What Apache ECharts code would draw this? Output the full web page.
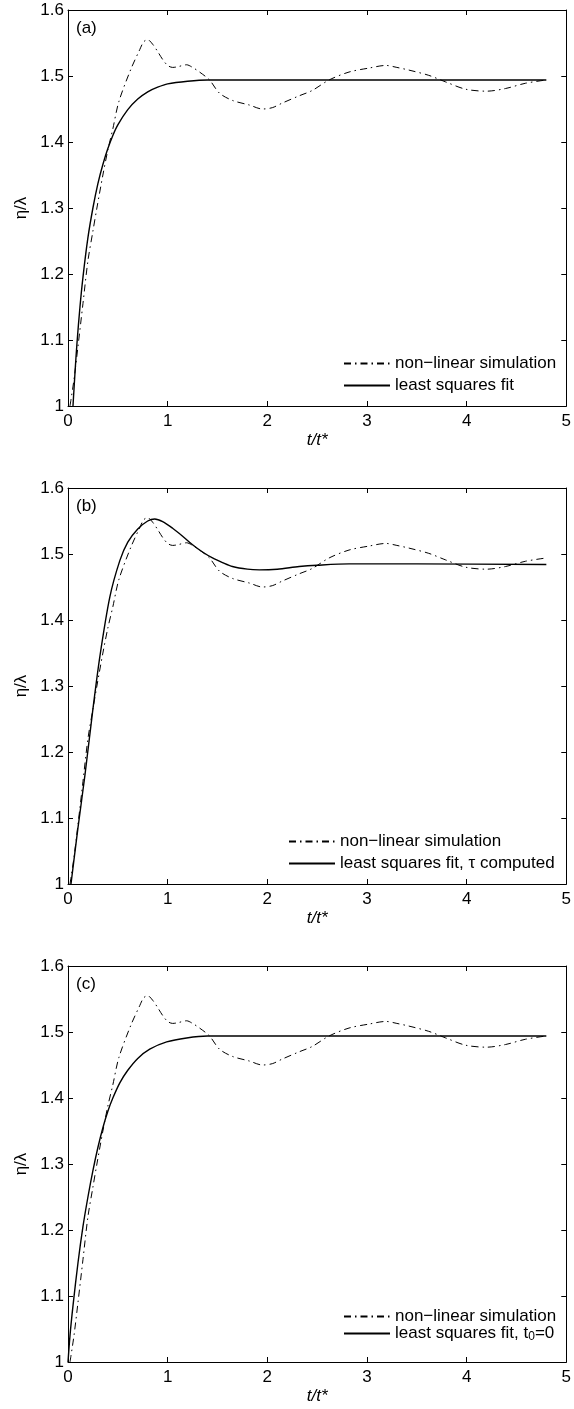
<!DOCTYPE html>
<html><head><meta charset="utf-8">
<script src="https://cdn.jsdelivr.net/npm/echarts@6/dist/echarts.min.js"></script>
<style>html,body{margin:0;padding:0;background:#fff}#c{width:574px;height:1409px}</style>
</head><body><div id="c"></div>
<script>
// ---- data ----
const xTicks = [0, 1, 2, 3, 4, 5];
const yTicks = [1, 1.1, 1.2, 1.3, 1.4, 1.5, 1.6];
const panelLabels = ['(a)', '(b)', '(c)'];
const simName = 'non−linear simulation';
const fitNames = ['least squares fit', 'least squares fit, τ computed', 'least squares fit, t0=0'];

// non-linear simulation (same in all panels)
const simT = [0.02,0.06,0.10,0.15,0.20,0.25,0.29,0.35,0.40,0.45,0.51,0.63,0.72,0.76,0.80,0.85,0.90,0.95,1.00,1.05,1.10,1.19,1.25,1.32,1.42,1.52,1.65,1.82,1.95,2.05,2.15,2.32,2.45,2.62,2.82,3.02,3.19,3.30,3.42,3.62,3.79,3.99,4.20,4.39,4.59,4.80];
const simV = [1.00,1.04,1.09,1.155,1.22,1.265,1.30,1.35,1.388,1.42,1.461,1.51,1.54,1.552,1.555,1.548,1.537,1.525,1.516,1.513,1.514,1.517,1.513,1.506,1.494,1.474,1.463,1.456,1.450,1.452,1.459,1.470,1.478,1.494,1.506,1.512,1.516,1.513,1.509,1.501,1.491,1.480,1.477,1.481,1.489,1.494];

// (a) least squares fit
const fitAT = [0.05,0.07,0.09,0.12,0.15,0.20,0.25,0.30,0.35,0.40,0.45,0.50,0.60,0.70,0.80,0.90,1.00,1.20,1.40,4.80];
const fitAV = [1.00,1.05,1.095,1.15,1.195,1.255,1.30,1.337,1.366,1.39,1.41,1.426,1.449,1.465,1.476,1.483,1.488,1.492,1.494,1.494];

// (b) least squares fit, tau computed
const fitBT = [0.03,0.10,0.17,0.25,0.32,0.42,0.52,0.60,0.70,0.80,0.87,0.95,1.05,1.15,1.25,1.35,1.45,1.55,1.65,1.80,1.92,2.10,2.32,2.50,2.82,3.50,4.80];
const fitBV = [1.00,1.085,1.165,1.265,1.345,1.435,1.49,1.518,1.538,1.55,1.553,1.549,1.539,1.527,1.514,1.503,1.494,1.487,1.481,1.477,1.476,1.477,1.481,1.483,1.485,1.485,1.484];

// (c) least squares fit, t0 = 0
const fitCT = [0.00,0.02,0.05,0.10,0.15,0.20,0.25,0.30,0.35,0.40,0.45,0.52,0.60,0.70,0.82,0.99,1.19,1.40,4.80];
const fitCV = [1.00,1.04,1.085,1.15,1.205,1.25,1.29,1.325,1.355,1.38,1.40,1.423,1.442,1.46,1.474,1.485,1.491,1.494,1.494];

const fits = [[fitAT, fitAV], [fitBT, fitBV], [fitCT, fitCV]];
const zip = (a, b) => a.map((v, i) => [v, b[i]]);

// ---- layout ----
const FONT = 'Liberation Sans';
const tops = [10, 488, 966];
const legendPos = [{left: 343, top: 355, gap: 5}, {left: 288, top: 833, gap: 5}, {left: 343, top: 1308, gap: 0}];
const GL = 68, GW = 500, GH = 396;
const dashDot = [7, 4, 1.5, 4];

const grid = [], xAxis = [], yAxis = [], series = [], legend = [], title = [];
const tickStyle = {show: true, inside: true, length: 5, lineStyle: {color: '#000', width: 1}};
const lineStyleAx = {show: true, onZero: false, lineStyle: {color: '#000', width: 1}};

tops.forEach((top, p) => {
  grid.push({left: GL, top: top, width: GW, height: GH, containLabel: false});
  xAxis.push({type: 'value', gridIndex: p, min: xTicks[0], max: xTicks[xTicks.length - 1], interval: 1,
    position: 'bottom', axisLine: lineStyleAx, axisTick: tickStyle, splitLine: {show: false},
    axisLabel: {show: true, margin: 7, color: '#000', fontFamily: FONT, fontSize: 17},
    name: 't/t*', nameLocation: 'middle', nameGap: 26,
    nameTextStyle: {color: '#000', fontFamily: FONT, fontSize: 17, fontStyle: 'italic'}});
  xAxis.push({type: 'value', gridIndex: p, min: xTicks[0], max: xTicks[xTicks.length - 1], interval: 1,
    position: 'top', axisLine: lineStyleAx, axisTick: tickStyle, splitLine: {show: false},
    axisLabel: {show: false}});
  yAxis.push({type: 'value', gridIndex: p, min: yTicks[0], max: yTicks[yTicks.length - 1], interval: 0.1,
    position: 'left', axisLine: lineStyleAx, axisTick: tickStyle, splitLine: {show: false},
    axisLabel: {show: true, margin: 4, color: '#000', fontFamily: FONT, fontSize: 17,
      formatter: v => String(+v.toFixed(1))},
    name: 'η/λ', nameLocation: 'middle', nameGap: 31,
    nameTextStyle: {color: '#000', fontFamily: FONT, fontSize: 17}});
  yAxis.push({type: 'value', gridIndex: p, min: yTicks[0], max: yTicks[yTicks.length - 1], interval: 0.1,
    position: 'right', axisLine: lineStyleAx, axisTick: tickStyle, splitLine: {show: false},
    axisLabel: {show: false}});

  series.push({type: 'line', name: simName, xAxisIndex: 2 * p, yAxisIndex: 2 * p,
    data: zip(simT, simV), showSymbol: false, symbol: 'none', smooth: 0.3, silent: true,
    lineStyle: {color: '#000', width: 1, type: dashDot}, itemStyle: {color: '#000'}});
  series.push({type: 'line', name: fitNames[p], xAxisIndex: 2 * p, yAxisIndex: 2 * p,
    data: zip(fits[p][0], fits[p][1]), showSymbol: false, symbol: 'none', smooth: 0.3, silent: true,
    lineStyle: {color: '#000', width: 1.4, type: 'solid'}, itemStyle: {color: '#000'}});

  const lp = legendPos[p];
  legend.push({orient: 'vertical', left: lp.left, top: lp.top, padding: 0, itemGap: lp.gap,
    itemWidth: 46, itemHeight: 14,
    data: [simName, fitNames[p]], selectedMode: false,
    itemStyle: {color: 'rgba(0,0,0,0)', borderWidth: 0, opacity: 0},
    textStyle: {color: '#000', fontFamily: FONT, fontSize: 17,
      rich: {n: {fontFamily: FONT, fontSize: 17, color: '#000'},
             s: {fontFamily: FONT, fontSize: 12, color: '#000', verticalAlign: 'bottom', padding: [6, 0, 0, 0]}}},
    formatter: name => name === 'least squares fit, t0=0' ? '{n|least squares fit, t}{s|0}{n|=0}' : name});

  title.push({text: panelLabels[p], left: GL + 8, top: top + 10, padding: 0,
    textStyle: {color: '#000', fontFamily: FONT, fontSize: 17, fontWeight: 'normal'}});
});

const chart = echarts.init(document.getElementById('c'), null, {renderer: 'canvas'});
chart.setOption({animation: false, backgroundColor: '#fff', grid, xAxis, yAxis, series, legend, title});
</script></body></html>
